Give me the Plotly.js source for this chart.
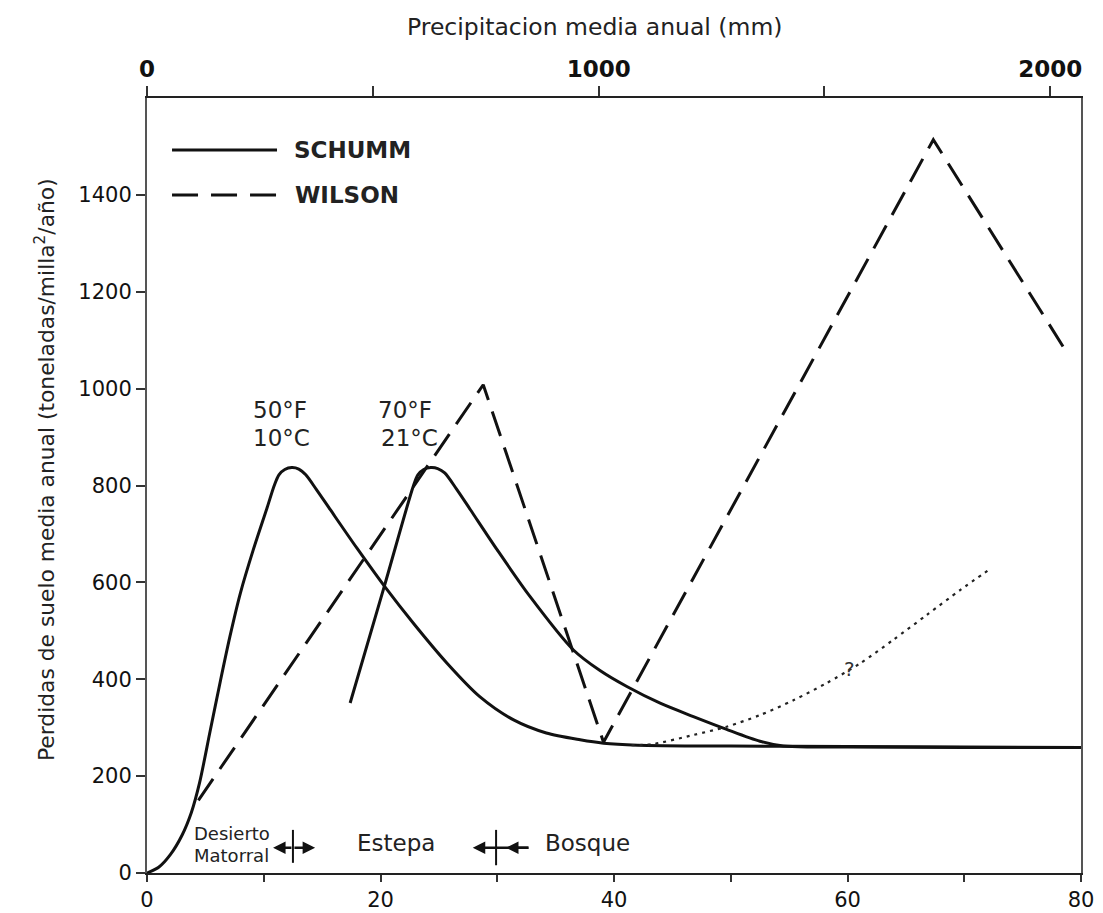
<!DOCTYPE html>
<html>
<head>
<meta charset="utf-8">
<script src="https://cdn.plot.ly/plotly-3.0.1.min.js"></script>
<style>html,body{margin:0;padding:0;background:#fff;}#chart{width:1103px;height:913px;}</style>
</head>
<body>
<div id="chart"></div>
<script>
// Precipitation (inches) vs. annual sediment yield (tons / mi² / yr)
var schumm50X = [0, 1.0, 2.0, 3.0, 3.8, 4.5, 5.4, 6.3, 7.1, 8.0, 9.1, 10.3, 10.9, 11.3, 11.8, 12.4, 13.0, 13.6, 14.5, 15.7, 18.0, 20.4, 22.8, 25.7, 28.5, 31.4, 34.2, 37.1, 39.1, 42, 50, 60, 70, 80];
var schumm50Y = [0, 12, 38, 78, 125, 186, 292, 398, 488, 578, 667, 755, 800, 822, 833, 837, 834, 822, 792, 750, 670, 590, 516, 433, 364, 316, 289, 275, 268, 264, 262, 261, 260, 259];

var schumm70X = [17.4, 20.4, 22.8, 23.2, 23.7, 24.3, 24.9, 25.5, 26.5, 27.7, 30.0, 32.8, 36.5, 38.8, 41.1, 44.0, 46.8, 49.6, 52.5, 54.5, 57, 60, 70, 80];
var schumm70Y = [351, 598, 798, 822, 833, 837, 835, 826, 793, 750, 667, 571, 461, 418, 385, 350, 323, 297, 272, 262, 260, 260, 259, 259];

var wilsonX = [4.4, 28.8, 39.1, 67.35, 78.8];
var wilsonY = [150, 1008, 270, 1514, 1074];

var dottedX = [41.5, 43.3, 46.8, 49.65, 52.5, 55.4, 58.2, 61.1, 63.9, 66.8, 69.7, 72.35];
var dottedY = [264, 266, 285, 302, 326, 357, 392, 433, 481, 533, 585, 630];

var bottomTickVals = [0, 10, 20, 30, 40, 50, 60, 70, 80];
var bottomTickText = ['0', '', '20', '', '40', '', '60', '', '80'];
var topTickVals = [0, 500, 1000, 1500, 2000];
var topTickText = ['0', '', '1000', '', '2000'];
var yTickVals = [0, 200, 400, 600, 800, 1000, 1200, 1400];
var yTickText = ['0', '200', '400', '600', '800', '1000', '1200', '1400'];

var seriesNames = ['SCHUMM', 'WILSON'];
var tempLabels = [['50°F', '10°C'], ['70°F', '21°C']];
var tempLabelX = [[11.39, 11.56], [22.1, 22.5]];
var zoneLabels = ['Desierto', 'Matorral', 'Estepa', 'Bosque'];

var FONT = 'DejaVu Sans, Liberation Sans, sans-serif';
var INK = '#111';

var traces = [
  {x: schumm50X, y: schumm50Y, mode: 'lines', line: {color: INK, width: 3, shape: 'spline', smoothing: 0.8}, name: seriesNames[0], showlegend: false, hoverinfo: 'skip'},
  {x: schumm70X, y: schumm70Y, mode: 'lines', line: {color: INK, width: 3, shape: 'spline', smoothing: 0.8}, name: seriesNames[0] + ' 70F', showlegend: false, hoverinfo: 'skip'},
  {x: wilsonX, y: wilsonY, mode: 'lines', line: {color: INK, width: 3, dash: '26px,12px'}, name: seriesNames[1], showlegend: false, hoverinfo: 'skip'},
  {x: dottedX, y: dottedY, mode: 'lines', line: {color: '#222', width: 2.2, dash: '3px,5px', shape: 'spline', smoothing: 0.8}, name: '?', showlegend: false, hoverinfo: 'skip'},
  {x: [0, 2068], y: [null, null], xaxis: 'x2', mode: 'lines', showlegend: false, hoverinfo: 'skip'}
];

function txt(x, y, text, size, extra) {
  var a = {x: x, y: y, text: text, showarrow: false, xanchor: 'center', yanchor: 'middle',
           font: {family: FONT, size: size, color: '#222'}};
  for (var k in (extra || {})) a[k] = extra[k];
  return a;
}

var annotations = [
  txt(0.4786, 1.0916, 'Precipitacion media anual (mm)', 23.5, {xref: 'paper', yref: 'paper'}),
  txt(-0.1092, 0.52, 'Perdidas de suelo media anual (toneladas/milla<sup>2</sup>/año)', 21.8, {xref: 'paper', yref: 'paper', textangle: -90}),
  txt(0.1552, 0.9329, seriesNames[0], 23, {xref: 'paper', yref: 'paper', xanchor: 'left', font: {family: FONT, size: 23, color: '#222', weight: 'bold'}}),
  txt(0.1563, 0.8748, seriesNames[1], 23, {xref: 'paper', yref: 'paper', xanchor: 'left', font: {family: FONT, size: 23, color: '#222', weight: 'bold'}}),
  txt(tempLabelX[0][0], 956, tempLabels[0][0], 23),
  txt(tempLabelX[0][1], 899, tempLabels[0][1], 23),
  txt(tempLabelX[1][0], 956, tempLabels[1][0], 23),
  txt(tempLabelX[1][1], 899, tempLabels[1][1], 23),
  txt(3.85, 82, zoneLabels[0], 18, {xanchor: 'left'}),
  txt(3.85, 37, zoneLabels[1], 18, {xanchor: 'left'}),
  txt(21.3, 62, zoneLabels[2], 23),
  txt(37.7, 62, zoneLabels[3], 23),
  txt(60.2, 421, '?', 20, {font: {family: FONT, size: 20, color: '#333'}}),
  // boundary arrows
  {x: 10.8, y: 52, ax: 12.5, ay: 52, axref: 'x', ayref: 'y', text: '', showarrow: true, arrowhead: 2, arrowsize: 1, arrowwidth: 2.5, arrowcolor: INK},
  {x: 14.4, y: 52, ax: 12.5, ay: 52, axref: 'x', ayref: 'y', text: '', showarrow: true, arrowhead: 2, arrowsize: 1, arrowwidth: 2.5, arrowcolor: INK},
  {x: 27.9, y: 52, ax: 32.8, ay: 52, axref: 'x', ayref: 'y', text: '', showarrow: true, arrowhead: 2, arrowsize: 1, arrowwidth: 2.5, arrowcolor: INK},
  {x: 30.75, y: 52, ax: 32.8, ay: 52, axref: 'x', ayref: 'y', text: '', showarrow: true, arrowhead: 2, arrowsize: 1, arrowwidth: 2.5, arrowcolor: INK}
];

var shapes = [
  {type: 'line', xref: 'paper', yref: 'paper', x0: 0.0268, x1: 0.1392, y0: 0.9329, y1: 0.9329, line: {color: INK, width: 3}},
  {type: 'line', xref: 'paper', yref: 'paper', x0: 0.0268, x1: 0.1392, y0: 0.8748, y1: 0.8748, line: {color: INK, width: 3, dash: '26px,13px'}},
  {type: 'line', x0: 12.5, x1: 12.5, y0: 21, y1: 89, line: {color: INK, width: 2}},
  {type: 'line', x0: 29.9, x1: 29.9, y0: 16, y1: 89, line: {color: INK, width: 2}}
];

var tickFont = {family: FONT, size: 21, color: '#111'};

var layout = {
  width: 1103, height: 913,
  margin: {l: 147, r: 22, t: 98, b: 40, pad: 0},
  paper_bgcolor: '#fff', plot_bgcolor: '#fff',
  showlegend: false,
  xaxis: {range: [0, 80], tickmode: 'array', tickvals: bottomTickVals, ticktext: bottomTickText, ticks: 'outside', ticklen: 7, tickwidth: 2, tickcolor: '#333',
          showline: true, linewidth: 2, linecolor: '#222', showgrid: false, zeroline: false, tickfont: tickFont, fixedrange: true},
  xaxis2: {overlaying: 'x', side: 'top', anchor: 'y', range: [0, 2068], tickmode: 'array', tickvals: topTickVals, ticktext: topTickText, ticks: 'outside', ticklen: 10, tickwidth: 2, tickcolor: '#333',
           showline: true, linewidth: 2, linecolor: '#222', showgrid: false, zeroline: false, tickfont: {family: FONT, size: 23, color: '#111', weight: 'bold'}, fixedrange: true},
  yaxis: {range: [0, 1600], tickmode: 'array', tickvals: yTickVals, ticktext: yTickText, ticks: 'outside', ticklen: 9, tickwidth: 2, tickcolor: '#333',
          showline: true, mirror: true, linewidth: 2, linecolor: '#555', showgrid: false, zeroline: false, tickfont: tickFont, fixedrange: true},
  annotations: annotations,
  shapes: shapes
};

Plotly.newPlot('chart', traces, layout, {staticPlot: true, displayModeBar: false});
</script>
</body>
</html>
